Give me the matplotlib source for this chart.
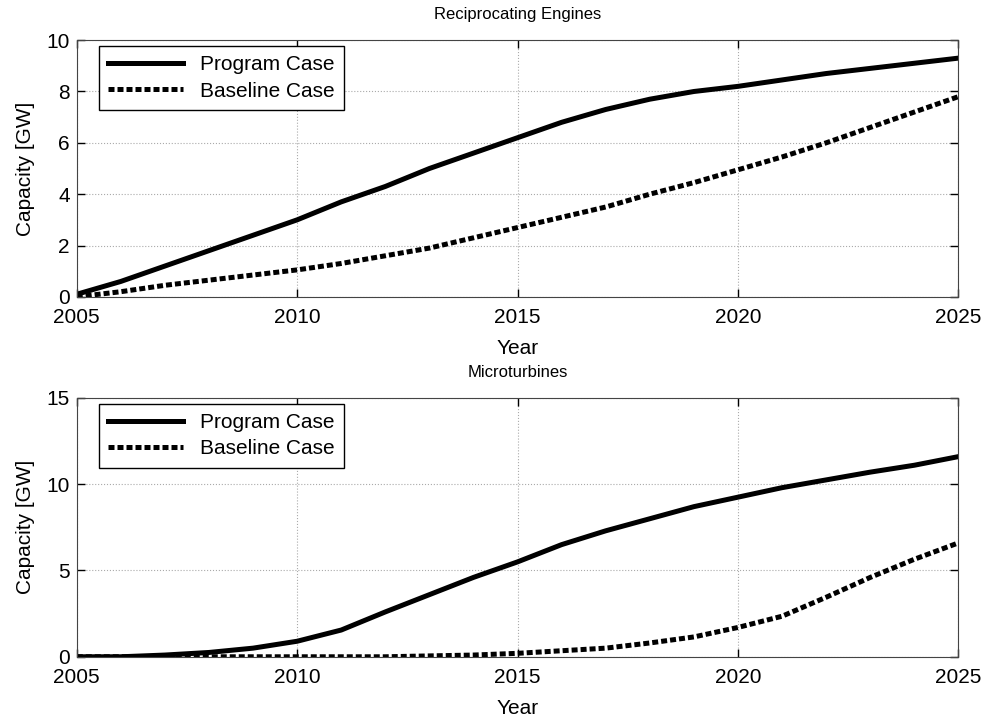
import matplotlib
matplotlib.use("Agg")
import matplotlib.pyplot as plt

plt.rcParams['font.family'] = ['Liberation Sans', 'DejaVu Sans']

years = list(range(2005, 2026))

recip_program = [0.1, 0.6, 1.2, 1.8, 2.4, 3.0, 3.7, 4.3, 5.0, 5.6, 6.2,
                 6.8, 7.3, 7.7, 8.0, 8.2, 8.45, 8.7, 8.9, 9.1, 9.3]
recip_baseline = [0.0, 0.2, 0.45, 0.65, 0.85, 1.05, 1.3, 1.6, 1.9, 2.3, 2.7,
                  3.1, 3.5, 4.0, 4.45, 4.95, 5.45, 6.0, 6.6, 7.2, 7.8]

micro_program = [0.0, 0.0, 0.1, 0.25, 0.5, 0.9, 1.55, 2.6, 3.6, 4.6, 5.5,
                 6.5, 7.3, 8.0, 8.7, 9.25, 9.8, 10.25, 10.7, 11.1, 11.6]
micro_baseline = [0.0, 0.0, 0.0, 0.0, 0.0, 0.0, 0.0, 0.0, 0.05, 0.1, 0.2,
                  0.35, 0.5, 0.8, 1.15, 1.7, 2.35, 3.45, 4.6, 5.65, 6.6]

panels = [
    ("Reciprocating Engines", recip_program, recip_baseline, 10, [0, 2, 4, 6, 8, 10]),
    ("Microturbines", micro_program, micro_baseline, 15, [0, 5, 10, 15]),
]

fig = plt.figure(figsize=(9.84, 7.17), dpi=100)
boxes = [[0.078, 0.586, 0.896, 0.358], [0.078, 0.084, 0.896, 0.361]]

for box, (title, prog, base, ymax, yt) in zip(boxes, panels):
    ax = fig.add_axes(box)
    ax.plot(years, prog, color='black', lw=3.6, label='Program Case')
    ax.plot(years, base, color='black', lw=3.6, ls=(0, (1.2, 0.6)), label='Baseline Case')
    ax.set_xlim(2005, 2025)
    ax.set_ylim(0, ymax)
    ax.set_xticks([2005, 2010, 2015, 2020, 2025])
    ax.set_yticks(yt)
    ax.grid(True, color='#aaaaaa', ls=':', lw=0.8)
    ax.tick_params(direction='in', top=True, right=True, labelsize=15, length=6, width=1)
    ax.tick_params(axis='x', pad=8)
    ax.tick_params(axis='y', pad=5)
    ax.set_title(title, fontsize=12, pad=15)
    ax.set_xlabel('Year', fontsize=15, labelpad=9)
    ax.set_ylabel('Capacity [GW]', fontsize=15, labelpad=8)
    for s in ax.spines.values():
        s.set_color('#444444')
    ax.legend(loc='upper left', bbox_to_anchor=(0.013, 1.018), fontsize=15, frameon=True,
              fancybox=False, edgecolor='black', framealpha=1, handlelength=3.6,
              borderpad=0.45, labelspacing=0.35)

fig.savefig('out.png', dpi=100)
